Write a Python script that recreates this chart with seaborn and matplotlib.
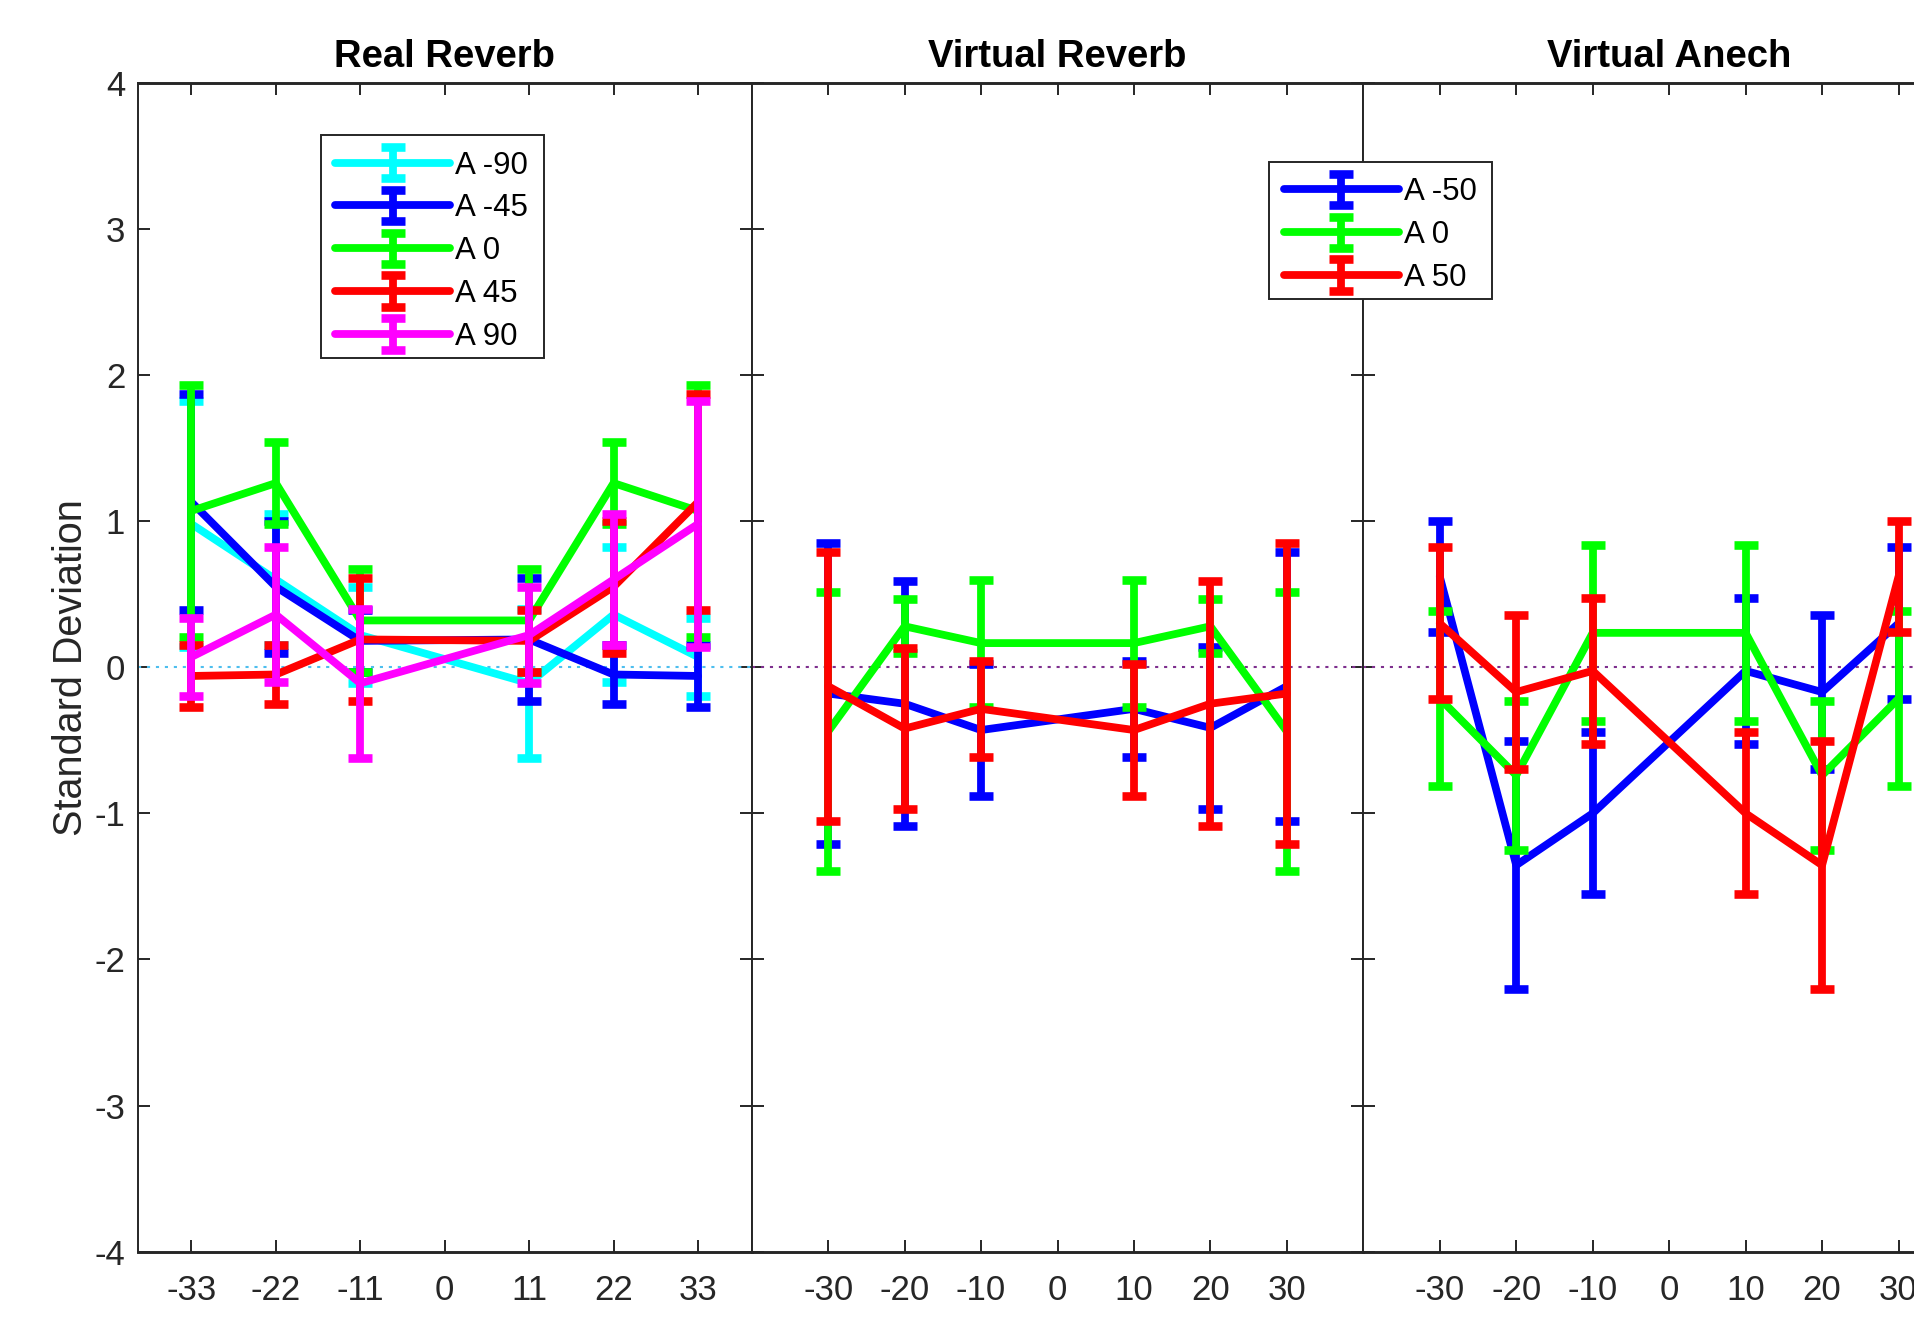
import matplotlib
matplotlib.use("Agg")
import matplotlib.pyplot as plt
from matplotlib.container import ErrorbarContainer
from matplotlib.patches import Rectangle
import seaborn as sns

# Source-azimuth positions for each room condition
real_x = [-33, -22, -11, 11, 22, 33]
virtual_x = [-30, -20, -10, 10, 20, 30]
real_ticks = [-33, -22, -11, 0, 11, 22, 33]
virtual_ticks = [-30, -20, -10, 0, 10, 20, 30]
y_ticks = [-4, -3, -2, -1, 0, 1, 2, 3, 4]

panel_titles = ["Real Reverb", "Virtual Reverb", "Virtual Anech"]
y_label = "Standard Deviation"

# Real Reverb
real_labels = ["A -90", "A -45", "A 0", "A 45", "A 90"]
real_colors = ["#00FFFF", "#0000FF", "#00FF00", "#FF0000", "#FF00FF"]
real_m90_mean = [0.98, 0.60, 0.22, -0.11, 0.36, 0.07]
real_m90_err = [0.84, 0.45, 0.33, 0.51, 0.46, 0.27]
real_m45_mean = [1.13, 0.55, 0.18, 0.19, -0.05, -0.06]
real_m45_err = [0.74, 0.45, 0.21, 0.42, 0.20, 0.21]
real_0_mean = [1.07, 1.26, 0.32, 0.32, 1.26, 1.07]
real_0_err = [0.86, 0.28, 0.35, 0.35, 0.28, 0.86]
real_p45_mean = [-0.06, -0.05, 0.19, 0.18, 0.55, 1.13]
real_p45_err = [0.21, 0.20, 0.42, 0.21, 0.45, 0.74]
real_p90_mean = [0.07, 0.36, -0.11, 0.22, 0.60, 0.98]
real_p90_err = [0.27, 0.46, 0.51, 0.33, 0.45, 0.84]

# Virtual conditions
virtual_labels = ["A -50", "A 0", "A 50"]
virtual_colors = ["#0000FF", "#00FF00", "#FF0000"]

vrev_m50_mean = [-0.18, -0.25, -0.43, -0.285, -0.415, -0.13]
vrev_m50_err = [1.03, 0.84, 0.45, 0.33, 0.555, 0.92]
vrev_0_mean = [-0.44, 0.28, 0.165, 0.165, 0.28, -0.44]
vrev_0_err = [0.955, 0.185, 0.435, 0.435, 0.185, 0.955]
vrev_p50_mean = [-0.13, -0.42, -0.285, -0.43, -0.25, -0.18]
vrev_p50_err = [0.92, 0.55, 0.33, 0.45, 0.84, 1.03]

vane_m50_mean = [0.62, -1.355, -1.0, -0.025, -0.17, 0.30]
vane_m50_err = [0.38, 0.85, 0.555, 0.50, 0.53, 0.52]
vane_0_mean = [-0.215, -0.74, 0.235, 0.235, -0.74, -0.215]
vane_0_err = [0.60, 0.51, 0.60, 0.60, 0.51, 0.60]
vane_p50_mean = [0.30, -0.17, -0.025, -1.0, -1.355, 0.62]
vane_p50_err = [0.52, 0.53, 0.50, 0.555, 0.85, 0.38]

sns.set_theme(style="ticks")
plt.rcParams["font.family"] = ["Liberation Sans", "DejaVu Sans"]
plt.rcParams["axes.unicode_minus"] = False

AX_COLOR = "#262626"
LW = 5.6          # data / error-bar line width (pt)
CAPSIZE = 8.3
CAPTHICK = 6.2
TICK_FS = 25
LEG_FS = 22.5
TITLE_FS = 27.5

W, H = 1914, 1320
fig = plt.figure(figsize=(W / 100, H / 100), dpi=100)

top_px, bottom_px = 82.7, 1251.7
edges = [137.7, 751.7, 1363.3, 1975.0]
axes = []
for i in range(3):
    l, r = edges[i], edges[i + 1]
    ax = fig.add_axes([l / W, 1 - bottom_px / H, (r - l) / W, (bottom_px - top_px) / H])
    axes.append(ax)


def draw_panel(ax, xs, means, errs, colors, labels):
    handles = []
    for i, (m, e, c, lab) in enumerate(zip(means, errs, colors, labels)):
        z = 3 + i
        eb = ax.errorbar(xs, m, yerr=e, fmt="none", ecolor=c, elinewidth=LW,
                         capsize=CAPSIZE, capthick=CAPTHICK, zorder=z)
        sns.lineplot(x=xs, y=m, color=c, linewidth=LW, sort=False,
                     estimator=None, legend=False, ax=ax, zorder=z + 0.5)
        line = ax.lines[-1]
        handles.append(ErrorbarContainer((line, eb.lines[1], eb.lines[2]),
                                         has_yerr=True, label=lab))
    return handles


def style_axes(ax, xticks, zero_color, show_ylabels):
    ax.axhline(0, color=zero_color, linestyle=(0, (1.5, 2.8)), linewidth=1.5, zorder=1)
    ax.set_xlim(-40, 40)
    ax.set_ylim(-4, 4)
    ax.set_xticks(xticks)
    ax.set_xticklabels([str(t) for t in xticks])
    ax.set_yticks(y_ticks)
    ax.set_yticklabels([str(t) for t in y_ticks])
    ax.tick_params(axis="both", direction="in", length=8.6, width=1.4,
                   colors=AX_COLOR, labelsize=TICK_FS, labelcolor=AX_COLOR,
                   top=True, right=True)
    ax.tick_params(axis="x", pad=16)
    ax.tick_params(axis="y", pad=9, labelleft=show_ylabels)
    ax.set_xlabel("")
    ax.set_ylabel("")
    for side, sp in ax.spines.items():
        sp.set_visible(True)
        sp.set_color(AX_COLOR)
        sp.set_linewidth(2.1 if side in ("top", "bottom") else 1.4)
    ax.grid(False)
    ax.set_facecolor("white")


def add_legend(handles, box):
    # box: left, top, right, bottom in pixels from the top-left corner
    x0, y0, x1, y1 = box
    frame = Rectangle((x0 / W, 1 - y1 / H), (x1 - x0) / W, (y1 - y0) / H,
                      transform=fig.transFigure, facecolor="white",
                      edgecolor=AX_COLOR, linewidth=1.4, zorder=1)
    fig.add_artist(frame)
    leg = fig.legend(handles=handles, loc="upper left",
                     bbox_to_anchor=((x0 + 3) / W, 1 - (y0 + 3.7) / H),
                     bbox_transform=fig.transFigure, borderaxespad=0,
                     fontsize=LEG_FS, handlelength=3.68, handletextpad=0.16,
                     borderpad=0.38, labelspacing=0.41, frameon=False)
    leg.set_zorder(5)
    for t in leg.get_texts():
        t.set_color("black")
    return leg


# Real Reverb
h1 = draw_panel(axes[0], real_x,
                [real_m90_mean, real_m45_mean, real_0_mean, real_p45_mean, real_p90_mean],
                [real_m90_err, real_m45_err, real_0_err, real_p45_err, real_p90_err],
                real_colors, real_labels)
style_axes(axes[0], real_ticks, "#4DBEEE", True)
add_legend(h1, (320.5, 135.0, 543.8, 358.3))

# Virtual Reverb
draw_panel(axes[1], virtual_x,
           [vrev_m50_mean, vrev_0_mean, vrev_p50_mean],
           [vrev_m50_err, vrev_0_err, vrev_p50_err],
           virtual_colors, virtual_labels)
style_axes(axes[1], virtual_ticks, "#7E2F8E", False)

# Virtual Anech
h3 = draw_panel(axes[2], virtual_x,
                [vane_m50_mean, vane_0_mean, vane_p50_mean],
                [vane_m50_err, vane_0_err, vane_p50_err],
                virtual_colors, virtual_labels)
style_axes(axes[2], virtual_ticks, "#7E2F8E", False)
add_legend(h3, (1269.0, 161.7, 1492.0, 299.0))

for ax, title in zip(axes, panel_titles):
    ax.set_title(title, fontsize=TITLE_FS, fontweight="bold", color="black", pad=11)

fig.text(71 / W, 1 - 667.2 / H, y_label, rotation=90, ha="center", va="center",
         fontsize=28.5, color=AX_COLOR)

fig.savefig("out.png", dpi=100)
